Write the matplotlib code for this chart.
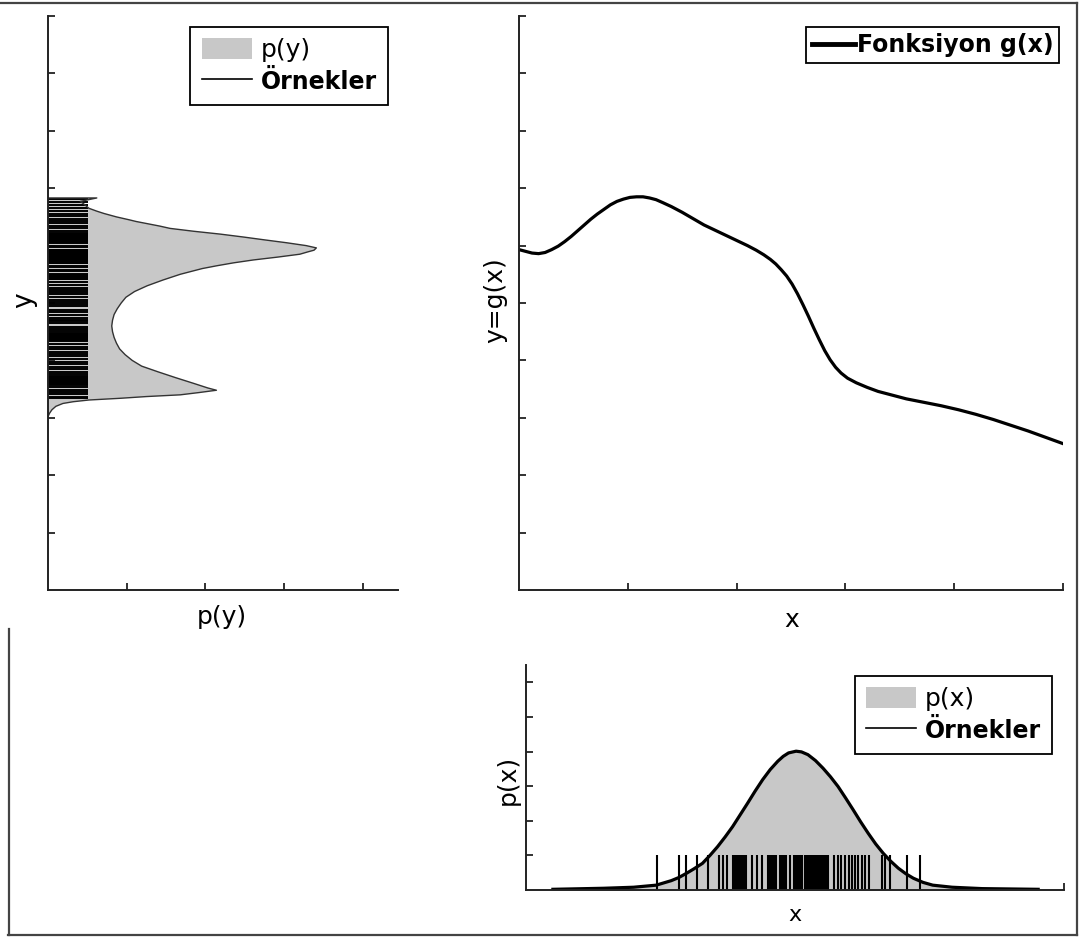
import matplotlib
matplotlib.use("Agg")
import matplotlib.pyplot as plt
from matplotlib.lines import Line2D
from matplotlib.patches import Patch

# g(x)
g_x = [0.00, 0.06, 0.12, 0.18, 0.24, 0.30, 0.36, 0.42, 0.48, 0.54, 0.60, 0.66,
       0.72, 0.78, 0.84, 0.90, 0.96, 1.02, 1.08, 1.14, 1.20, 1.26, 1.32, 1.40,
       1.50, 1.60, 1.70, 1.80, 1.90, 2.00, 2.10, 2.18, 2.25, 2.31, 2.36, 2.41,
       2.46, 2.51, 2.56, 2.61, 2.66, 2.71, 2.76, 2.81, 2.86, 2.91, 2.96, 3.02,
       3.10, 3.20, 3.30, 3.42, 3.56, 3.72, 3.88, 4.04, 4.20, 4.36, 4.52, 4.68,
       4.84, 5.00]
g_y = [5.93, 5.90, 5.87, 5.86, 5.88, 5.93, 5.99, 6.07, 6.16, 6.26, 6.36, 6.46,
       6.55, 6.63, 6.71, 6.77, 6.81, 6.84, 6.85, 6.85, 6.83, 6.80, 6.75, 6.68,
       6.58, 6.47, 6.36, 6.27, 6.18, 6.09, 6.00, 5.92, 5.84, 5.76, 5.68, 5.58,
       5.47, 5.33, 5.16, 4.97, 4.77, 4.56, 4.36, 4.17, 4.01, 3.88, 3.78, 3.69,
       3.61, 3.53, 3.46, 3.40, 3.33, 3.27, 3.21, 3.14, 3.06, 2.97, 2.87, 2.77,
       2.66, 2.55]

# p(y) outline (left panel): y value and density
py_y = [6.83, 6.83, 6.77, 6.72, 6.65, 6.60, 6.56, 6.50, 6.45, 6.42, 6.38, 6.34,
        6.30, 6.25, 6.20, 6.15, 6.10, 6.05, 6.00, 5.96, 5.92, 5.89, 5.85, 5.80,
        5.75, 5.70, 5.65, 5.60, 5.50, 5.40, 5.30, 5.20, 5.10, 5.00, 4.90, 4.80,
        4.70, 4.60, 4.50, 4.40, 4.30, 4.20, 4.10, 4.00, 3.90, 3.80, 3.70, 3.60,
        3.52, 3.48, 3.44, 3.40, 3.37, 3.34, 3.31, 3.28, 3.25, 3.20, 3.14, 3.08,
        3.02]
py_p = [0.00, 0.62, 0.41, 0.46, 0.52, 0.62, 0.71, 0.87, 1.03, 1.12, 1.27, 1.42,
        1.55, 1.85, 2.19, 2.48, 2.75, 3.03, 3.28, 3.41, 3.38, 3.30, 3.20, 2.92,
        2.61, 2.36, 2.15, 1.96, 1.68, 1.46, 1.26, 1.10, 0.99, 0.93, 0.88, 0.84,
        0.82, 0.81, 0.82, 0.84, 0.87, 0.91, 0.98, 1.07, 1.19, 1.40, 1.62, 1.85,
        2.03, 2.14, 1.92, 1.68, 1.25, 0.92, 0.52, 0.32, 0.19, 0.10, 0.05, 0.02,
        0.00]

# samples of y (rug on the left panel)
rug_y = [6.82, 6.76, 6.70, 6.66, 6.60, 6.55, 6.51, 6.46, 6.43, 6.39, 6.34, 6.30,
         6.26, 6.22, 6.205, 6.19, 6.175, 6.16, 6.145, 6.13, 6.115, 6.10, 6.085,
         6.07, 6.055, 6.04, 6.00, 5.97, 5.93, 5.915, 5.90, 5.885, 5.87, 5.855,
         5.84, 5.825, 5.81, 5.795, 5.78, 5.765, 5.75, 5.735, 5.72, 5.705, 5.69,
         5.65, 5.62, 5.58, 5.55, 5.50, 5.485, 5.47, 5.455, 5.44, 5.425, 5.41,
         5.36, 5.31, 5.27, 5.23, 5.20, 5.15, 5.11, 5.06, 5.02, 4.98, 4.94, 4.88,
         4.84, 4.79, 4.74, 4.71, 4.68, 4.65, 4.59, 4.55, 4.51, 4.47, 4.455,
         4.44, 4.425, 4.41, 4.395, 4.38, 4.365, 4.35, 4.335, 4.28, 4.24, 4.19,
         4.15, 4.12, 4.07, 4.03, 3.98, 3.94, 3.89, 3.85, 3.80, 3.76, 3.72,
         3.705, 3.69, 3.675, 3.66, 3.645, 3.63, 3.615, 3.60, 3.585, 3.57, 3.53,
         3.49, 3.45, 3.41, 3.37, 3.34]

# p(x) curve (lower panel)
px_x = [0.25, 0.72, 1.00, 1.21, 1.35, 1.42, 1.49, 1.56, 1.64, 1.71, 1.78, 1.85,
        1.92, 1.99, 2.06, 2.13, 2.20, 2.27, 2.34, 2.39, 2.44, 2.51, 2.56, 2.62,
        2.69, 2.76, 2.83, 2.90, 2.97, 3.04, 3.11, 3.18, 3.25, 3.32, 3.39, 3.46,
        3.53, 3.60, 3.69, 3.78, 3.96, 4.24, 4.76]
px_p = [0.02, 0.05, 0.08, 0.14, 0.27, 0.36, 0.48, 0.61, 0.77, 1.00, 1.25, 1.53,
        1.83, 2.17, 2.51, 2.86, 3.19, 3.48, 3.72, 3.86, 3.96, 4.01, 3.99, 3.91,
        3.74, 3.52, 3.27, 2.99, 2.66, 2.32, 1.97, 1.64, 1.33, 1.06, 0.83, 0.63,
        0.47, 0.34, 0.22, 0.14, 0.08, 0.04, 0.02]

# samples of x (rug on the lower panel)
rug_x = [1.22, 1.42, 1.49, 1.59, 1.69, 1.79, 1.83, 1.87, 1.92, 1.935, 1.95,
         1.965, 1.98, 1.995, 2.01, 2.025, 2.04, 2.10, 2.15, 2.19, 2.25, 2.265,
         2.28, 2.295, 2.31, 2.325, 2.36, 2.375, 2.39, 2.405, 2.42, 2.45, 2.49,
         2.505, 2.52, 2.535, 2.55, 2.565, 2.595, 2.61, 2.625, 2.64, 2.655, 2.67,
         2.685, 2.70, 2.715, 2.73, 2.745, 2.76, 2.775, 2.79, 2.805, 2.86, 2.90,
         2.93, 2.965, 3.00, 3.03, 3.06, 3.09, 3.12, 3.15, 3.19, 3.31, 3.34,
         3.38, 3.54, 3.66]

fill_c = "#c8c8c8"
W, H = 1083, 938


def box(left, top, right, bottom):
    return [left / W, 1 - bottom / H, (right - left) / W, (bottom - top) / H]


def style(ax):
    for s in ["top", "right"]:
        ax.spines[s].set_visible(False)
    for s in ["left", "bottom"]:
        ax.spines[s].set_linewidth(1.4)
        ax.spines[s].set_color("#222222")
    ax.tick_params(direction="in", length=5, width=1.3, color="#222222",
                   labelleft=False, labelbottom=False)


fig = plt.figure(figsize=(W / 100, H / 100), dpi=100)

# left: p(y)
ax1 = fig.add_axes(box(48, 16, 398, 590))
ax1.fill(py_p + [0], py_y + [py_y[0]], color=fill_c, lw=0)
ax1.hlines(rug_y, 0, 0.51, color="black", lw=1.4)
ax1.plot(py_p, py_y, color="#333333", lw=1.0)
ax1.set_xlim(0, 4.447)
ax1.set_ylim(0, 10)
ax1.set_xticks([1, 2, 3, 4])
ax1.set_yticks(range(1, 11))
style(ax1)
ax1.set_xlabel("p(y)", fontsize=18)
ax1.set_ylabel("y", fontsize=19)
ax1.xaxis.set_label_coords(0.497, -0.026)
ax1.yaxis.set_label_coords(-0.031, 0.505)
leg1 = ax1.legend(handles=[Patch(facecolor=fill_c, edgecolor="none"),
                           Line2D([], [], color="black", lw=1.2)],
                  labels=["p(y)", "Örnekler"], loc="upper right",
                  bbox_to_anchor=(0.971, 0.981), borderaxespad=0, fancybox=False,
                  edgecolor="black", framealpha=1, fontsize=18, handlelength=2.0,
                  handleheight=0.9, handletextpad=0.35, labelspacing=0.3,
                  borderpad=0.45)
leg1.get_frame().set_linewidth(1.3)
leg1.get_texts()[1].set_fontweight("bold")
leg1.get_texts()[1].set_fontsize(17)

# upper right: g(x)
ax2 = fig.add_axes(box(519, 16, 1063, 590))
ax2.plot(g_x, g_y, color="black", lw=2.3)
ax2.set_xlim(0, 5)
ax2.set_ylim(0, 10)
ax2.set_xticks([1, 2, 3, 4, 5])
ax2.set_yticks(range(1, 11))
style(ax2)
ax2.set_xlabel("x", fontsize=18)
ax2.set_ylabel("y=g(x)", fontsize=18)
ax2.xaxis.set_label_coords(0.502, -0.031)
ax2.yaxis.set_label_coords(-0.022, 0.505)
leg2 = ax2.legend(handles=[Line2D([], [], color="black", lw=3.5)],
                  labels=["Fonksiyon g(x)"], loc="upper right",
                  bbox_to_anchor=(0.993, 0.981), borderaxespad=0, fancybox=False,
                  edgecolor="black", framealpha=1,
                  prop={"size": 17, "weight": "bold"}, handlelength=1.85,
                  handletextpad=0.05, borderpad=0.25)
leg2.get_frame().set_linewidth(1.3)

# lower right: p(x)
ax3 = fig.add_axes(box(526, 665, 1064, 890))
ax3.fill_between(px_x, 0, px_p, color=fill_c, lw=0)
ax3.vlines(rug_x, 0, 1.01, color="black", lw=1.5)
ax3.plot(px_x, px_p, color="black", lw=2.3)
ax3.set_xlim(0, 5)
ax3.set_ylim(0, 6.5)
ax3.set_xticks([5])
ax3.set_yticks(range(1, 7))
style(ax3)
ax3.set_xlabel("x", fontsize=16)
ax3.set_ylabel("p(x)", fontsize=18)
ax3.xaxis.set_label_coords(0.5, -0.067)
ax3.yaxis.set_label_coords(-0.011, 0.489)
leg3 = ax3.legend(handles=[Patch(facecolor=fill_c, edgecolor="none"),
                           Line2D([], [], color="black", lw=1.2)],
                  labels=["p(x)", "Örnekler"], loc="upper right",
                  bbox_to_anchor=(0.978, 0.951), borderaxespad=0, fancybox=False,
                  edgecolor="black", framealpha=1, fontsize=18, handlelength=2.0,
                  handleheight=0.9, handletextpad=0.35, labelspacing=0.3,
                  borderpad=0.45)
leg3.get_frame().set_linewidth(1.3)
leg3.get_texts()[1].set_fontweight("bold")
leg3.get_texts()[1].set_fontsize(17)

# outer frame of the original page
frame = dict(color="#444444", lw=1.6, transform=fig.transFigure)
fig.add_artist(Line2D([0, 1077 / W], [1 - 3 / H, 1 - 3 / H], **frame))
fig.add_artist(Line2D([1077 / W, 1077 / W], [1 - 3 / H, 1 - 935 / H], **frame))
fig.add_artist(Line2D([8 / W, 1077 / W], [1 - 935 / H, 1 - 935 / H], **frame))
fig.add_artist(Line2D([8.5 / W, 8.5 / W], [1 - 629 / H, 1 - 935 / H], **frame))

fig.savefig("out.png", dpi=100)
